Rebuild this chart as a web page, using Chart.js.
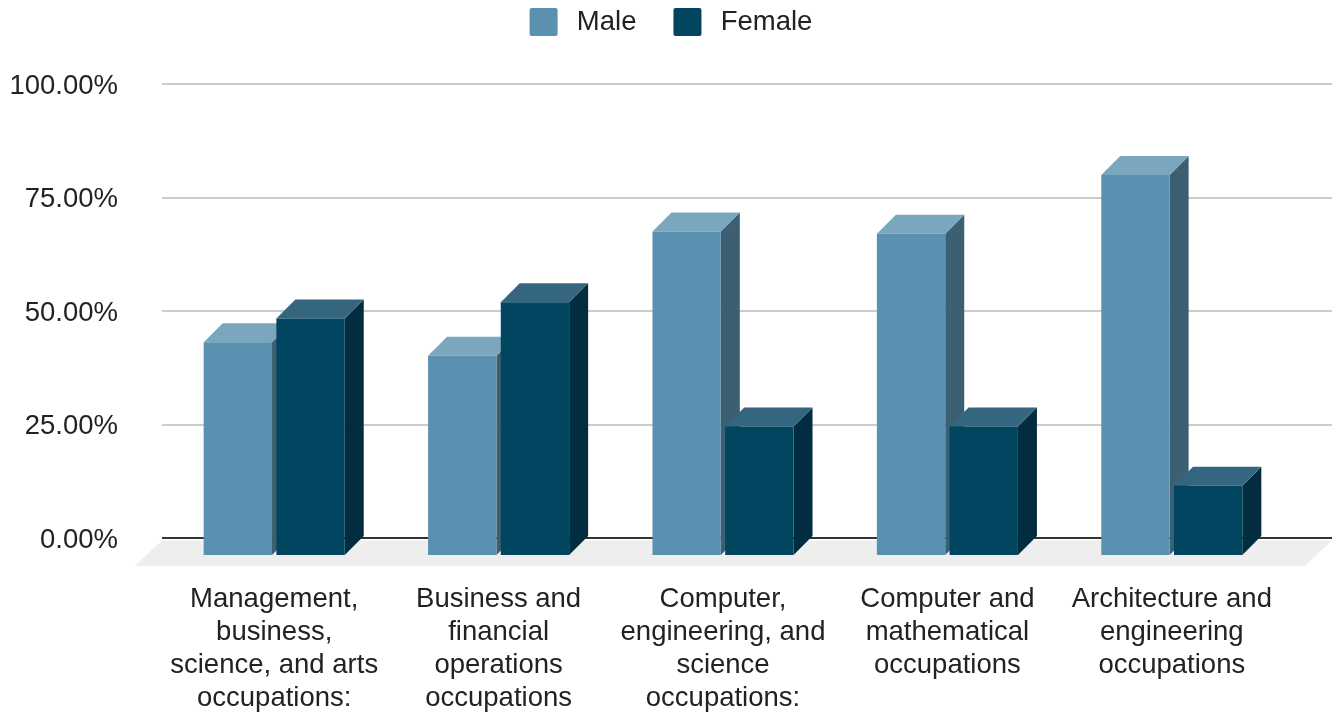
<!DOCTYPE html>
<html><head><meta charset="utf-8">
<style>html,body{margin:0;padding:0;background:#fff}#w{position:relative;width:1335px;height:715px}</style>
<script src="https://cdn.jsdelivr.net/npm/chart.js@4"></script>
</head><body><div id="w"><canvas id="c" width="1335" height="715"></canvas></div>
<script>
const categories = [
  ["Management,","business,","science, and arts","occupations:"],
  ["Business and","financial","operations","occupations"],
  ["Computer,","engineering, and","science","occupations:"],
  ["Computer and","mathematical","occupations"],
  ["Architecture and","engineering","occupations"]
];
const maleValues = [47.1, 44.1, 71.5, 71.0, 83.9];
const femaleValues = [52.3, 55.9, 28.5, 28.5, 15.5];
const yTicks = [0, 25, 50, 75, 100];

const FONT = "'Liberation Sans', Arial, sans-serif";
const faces = [
  {front:'#5A91B0', top:'#7BA7BE', side:'#3C5F72'},
  {front:'#024560', top:'#34677F', side:'#022D40'}
];
const DEPTH = 19, DROP = 18, GRID_EXT = 48;

const bars3d = {
  id:'bars3d',
  beforeDraw(chart){
    const {ctx, chartArea:a} = chart;
    ctx.save();
    ctx.fillStyle = '#EEEEEE';
    ctx.beginPath();
    ctx.moveTo(a.left, a.bottom+2.5);
    ctx.lineTo(a.right+GRID_EXT, a.bottom+2.5);
    ctx.lineTo(a.right+GRID_EXT-27, a.bottom+28);
    ctx.lineTo(a.left-27.5, a.bottom+28);
    ctx.closePath(); ctx.fill();
    ctx.restore();
  },
  beforeDatasetsDraw(chart){
    const {ctx, chartArea:a, scales} = chart;
    // gridlines continue past the last category, towards the back wall's right edge
    ctx.save();
    yTicks.forEach(v=>{
      const y = Math.round(scales.y.getPixelForValue(v));
      ctx.strokeStyle = v===0 ? '#333333' : '#CCCCCC';
      ctx.lineWidth = 2;
      ctx.beginPath(); ctx.moveTo(a.right-1,y); ctx.lineTo(a.right+GRID_EXT,y); ctx.stroke();
    });
    ctx.restore();
    ctx.save();
    ctx.translate(0, DROP);
    chart.data.datasets.forEach((d,i)=>{
      const f = faces[i];
      chart.getDatasetMeta(i).data.forEach(el=>{
        const l = el.x-el.width/2, r = el.x+el.width/2, t = el.y, b = el.base;
        ctx.fillStyle = f.side;
        ctx.beginPath();
        ctx.moveTo(r,t); ctx.lineTo(r+DEPTH,t-DEPTH); ctx.lineTo(r+DEPTH,b-DEPTH); ctx.lineTo(r,b);
        ctx.closePath(); ctx.fill();
        ctx.fillStyle = f.top;
        ctx.beginPath();
        ctx.moveTo(l,t); ctx.lineTo(l+DEPTH,t-DEPTH); ctx.lineTo(r+DEPTH,t-DEPTH); ctx.lineTo(r,t);
        ctx.closePath(); ctx.fill();
      });
    });
  },
  afterDatasetsDraw(chart){ chart.ctx.restore(); },
  afterLayout(chart){
    const lg = chart.legend;
    const dx = 29, dy = -38;
    lg.left += dx; lg.right += dx;
    lg.top += dy; lg.bottom += dy;
    if (lg.legendHitBoxes) lg.legendHitBoxes.forEach(h=>{h.left += dx; h.top += dy;});
  }
};

new Chart(document.getElementById('c'), {
  type:'bar',
  plugins:[bars3d],
  data:{
    labels:categories,
    datasets:[
      {label:'Male', data:maleValues, backgroundColor:faces[0].front, clip:false,
       categoryPercentage:0.648, barPercentage:0.94},
      {label:'Female', data:femaleValues, backgroundColor:faces[1].front, clip:false,
       categoryPercentage:0.648, barPercentage:0.94}
    ]
  },
  options:{
    responsive:false, animation:false,
    layout:{padding:{left:0,right:51,top:9,bottom:0}},
    plugins:{
      tooltip:{enabled:false},
      legend:{
        position:'top', align:'center',
        labels:{
          boxWidth:28, boxHeight:28, padding:37, useBorderRadius:true, borderRadius:2,
          color:'#222222', font:{family:FONT,size:27.5},
          generateLabels(chart){
            return Chart.defaults.plugins.legend.labels.generateLabels(chart).map(it=>{
              it.text = '\u2009'+it.text; return it;
            });
          }
        }
      }
    },
    scales:{
      x:{
        grid:{display:false}, border:{display:false},
        afterFit(s){s.height=177;},
        ticks:{autoSkip:false,maxRotation:0,minRotation:0,padding:37,color:'#222222',font:{family:FONT,size:27.5}}
      },
      y:{
        min:0,max:100,
        border:{display:false},
        afterFit(s){s.width=162;},
        afterBuildTicks(s){s.ticks=yTicks.map(v=>({value:v}));},
        grid:{drawTicks:false,
          color:c=>c.tick.value===0?'#333333':'#CCCCCC',
          lineWidth:2},
        ticks:{padding:44,labelOffset:2,color:'#222222',font:{family:FONT,size:27.5},
          callback:v=>v.toFixed(2)+'%'}
      }
    }
  }
});
</script></body></html>
